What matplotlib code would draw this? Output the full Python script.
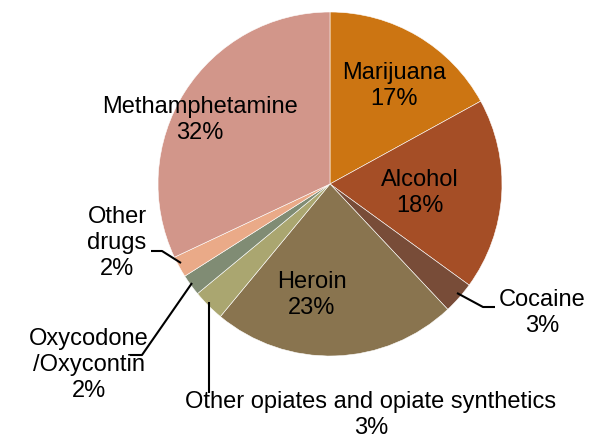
import matplotlib.pyplot as plt

# Share of admissions by primary drug
drugs = ["Marijuana", "Alcohol", "Cocaine", "Heroin",
         "Other opiates and opiate synthetics", "Oxycodone\n/Oxycontin",
         "Other drugs", "Methamphetamine"]
shares = [17, 18, 3, 23, 3, 2, 2, 32]
colors = ["#CC7512", "#A54E26", "#784C38", "#89744F",
          "#AAA670", "#808C74", "#EAAA88", "#D2968A"]

W, H = 599, 440
fig = plt.figure(figsize=(W / 100, H / 100), dpi=100)
ax = fig.add_axes([0, 0, 1, 1])
ax.axis("off")

def py(y):
    # pixel row (from top) -> data y
    return H - y

ax.pie(shares, colors=colors, startangle=90, counterclock=False,
       center=(330, py(184)), radius=172,
       wedgeprops=dict(edgecolor="white", linewidth=0.4))
ax.set_aspect("equal")
ax.set_xlim(0, W)
ax.set_ylim(0, H)

font = dict(family="Liberation Sans", fontsize=17, ha="center", va="center",
            linespacing=1.25)

label_pos = {
    "Marijuana": (394, 86),
    "Alcohol": (420, 193),
    "Cocaine": (542, 313),
    "Heroin": (312, 295),
    "Other opiates and opiate synthetics": (371, 415),
    "Oxycodone\n/Oxycontin": (89, 365),
    "Other drugs": (117, 243),
    "Methamphetamine": (200, 120),
}

for name, val in zip(drugs, shares):
    x, y = label_pos[name]
    text = name.replace("Other drugs", "Other\ndrugs")
    ax.text(x, py(y), f"{text}\n{val}%", **font)

# leader lines for the small slices
leaders = [
    [(457, 293), (483, 307), (495, 307)],
    [(151, 251), (162, 251), (181, 263)],
    [(192, 283), (142, 355), (130, 355)],
    [(209, 302), (209, 393)],
]
for pts in leaders:
    xs = [p[0] for p in pts]
    ys = [py(p[1]) for p in pts]
    ax.plot(xs, ys, color="black", linewidth=1.5, solid_capstyle="butt")

fig.savefig("out.png", dpi=100)
